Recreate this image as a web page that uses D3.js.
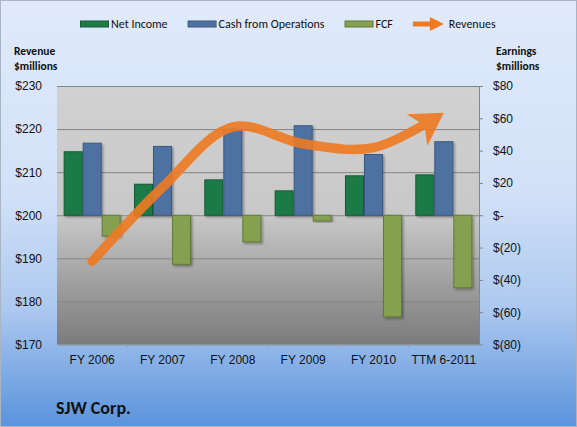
<!DOCTYPE html>
<html>
<head>
<meta charset="utf-8">
<script src="https://cdn.jsdelivr.net/npm/d3@7"></script>
<style>
  body { margin: 0; background: #fff; }
  svg { display: block; font-family: Carlito, Calibri, Lato, "Open Sans", sans-serif; }
  .axis text { font-size: 12px; fill: #111; }
</style>
</head>
<body>
<svg id="chart" width="577" height="427"></svg>
<script>
// data, $ millions
const categories = ["FY 2006", "FY 2007", "FY 2008", "FY 2009", "FY 2010", "TTM 6-2011"];
const netIncome = [39.3, 19.2, 21.9, 15.1, 24.4, 25.0];
const cashFromOps = [44.6, 42.6, 53.3, 55.4, 37.6, 45.5];
const fcf = [-12.8, -30.4, -16.5, -3.5, -62.9, -44.9];
const revenues = [189.3, 206.5, 220.5, 216.6, 215.7, 223.8];
const leftTicks = [170, 180, 190, 200, 210, 220, 230];
const rightTicks = [-80, -60, -40, -20, 0, 20, 40, 60, 80];

const W = 577, H = 427;
const margin = {left: 57, right: 98, top: 86, bottom: 82.5};
const plotW = W - margin.left - margin.right;
const plotH = H - margin.top - margin.bottom;

const svg = d3.select("#chart");
const defs = svg.append("defs");

const bg = defs.append("linearGradient").attr("id", "bg")
    .attr("x1", 0).attr("y1", 0).attr("x2", 0).attr("y2", 1);
bg.append("stop").attr("offset", "0").attr("stop-color", "#e0eafb");
bg.append("stop").attr("offset", "0.45").attr("stop-color", "#d2e1f8");
bg.append("stop").attr("offset", "0.72").attr("stop-color", "#adc9ef");
bg.append("stop").attr("offset", "1").attr("stop-color", "#5a93dc");

const pg = defs.append("linearGradient").attr("id", "plotbg")
    .attr("x1", 0).attr("y1", 0).attr("x2", 0).attr("y2", 1);
pg.append("stop").attr("offset", "0").attr("stop-color", "#d1d1d1");
pg.append("stop").attr("offset", "0.5").attr("stop-color", "#c8c8c8");
pg.append("stop").attr("offset", "1").attr("stop-color", "#7b7b7b");

const shadow = defs.append("filter").attr("id", "shadow")
    .attr("x", "-20%").attr("y", "-20%").attr("width", "150%").attr("height", "150%");
shadow.append("feDropShadow").attr("dx", 1.5).attr("dy", 1.5)
    .attr("stdDeviation", 1).attr("flood-color", "#000").attr("flood-opacity", 0.35);

const orange = "#ef7a22";
defs.append("marker").attr("id", "arrow")
    .attr("markerUnits", "userSpaceOnUse")
    .attr("viewBox", "0 0 34 38")
    .attr("markerWidth", 34).attr("markerHeight", 38)
    .attr("refX", 32).attr("refY", 19)
    .attr("orient", "auto")
  .append("path")
    .attr("d", "M0,0 L32,19 L0,38 L9,19 Z")
    .attr("fill", orange);

svg.append("rect").attr("x", 0.5).attr("y", 0.5)
    .attr("width", W - 1).attr("height", H - 1)
    .attr("fill", "url(#bg)").attr("stroke", "#a9b4c4");

const g = svg.append("g").attr("transform", `translate(${margin.left},${margin.top})`);

g.append("rect").attr("width", plotW).attr("height", plotH).attr("fill", "url(#plotbg)");

const x = d3.scaleBand().domain(categories).range([0, plotW]);
const series = ["ni", "cfo", "fcf"];
const gap = x.bandwidth() / 3.7 * 0.7;
const xs = d3.scaleBand().domain(series).range([gap / 2, x.bandwidth() - gap / 2]);
const yL = d3.scaleLinear().domain([170, 230]).range([plotH, 0]);
const yR = d3.scaleLinear().domain([-80, 80]).range([plotH, 0]);

// gridlines
g.append("g").attr("class", "grid")
    .call(d3.axisLeft(yL).tickValues(leftTicks.slice(1)).tickSize(-plotW).tickFormat(""))
    .call(s => s.select(".domain").remove())
    .call(s => s.selectAll("line").attr("stroke", "#858585"));

// bars
const barData = categories.map((c, i) => ({
  cat: c,
  vals: [
    {key: "ni", v: netIncome[i]},
    {key: "cfo", v: cashFromOps[i]},
    {key: "fcf", v: fcf[i]}
  ]
}));
const fill = {ni: "#1e7a47", cfo: "#4e71a0", fcf: "#85a04f"};
const edge = {ni: "#175c36", cfo: "#3a5982", fcf: "#627a38"};

g.append("g").selectAll("g").data(barData).join("g")
    .attr("transform", d => `translate(${x(d.cat)},0)`)
  .selectAll("rect").data(d => d.vals).join("rect")
    .attr("x", d => xs(d.key) + 0.5)
    .attr("width", xs.bandwidth() - 1)
    .attr("y", d => yR(Math.max(0, d.v)))
    .attr("height", d => Math.abs(yR(d.v) - yR(0)))
    .attr("fill", d => fill[d.key])
    .attr("stroke", d => edge[d.key])
    .attr("stroke-width", 1)
    .attr("filter", "url(#shadow)");

// bottom axis
const xAxis = g.append("g").attr("class", "axis")
    .attr("transform", `translate(0,${plotH})`)
    .call(d3.axisBottom(x).tickSize(0).tickPadding(11));
xAxis.select(".domain").attr("stroke", "#8c8c8c");
g.append("g").selectAll("line").data(categories.slice(1)).join("line")
    .attr("x1", d => x(d)).attr("x2", d => x(d))
    .attr("y1", plotH).attr("y2", plotH + 3)
    .attr("stroke", "#9a9a9a");

// left axis labels
g.append("g").attr("class", "axis")
    .call(d3.axisLeft(yL).tickValues(leftTicks).tickSize(0).tickPadding(15)
      .tickFormat(d => "$" + d))
    .call(s => s.select(".domain").remove());

// right axis
const fmtR = d => d === 0 ? "$-" : d < 0 ? `$(${-d})` : "$" + d;
const rAxis = g.append("g").attr("class", "axis")
    .attr("transform", `translate(${plotW},0)`)
    .call(d3.axisRight(yR).tickValues(rightTicks).tickSize(4).tickPadding(10)
      .tickSizeOuter(0).tickFormat(fmtR));
rAxis.select(".domain").attr("stroke", "#858585");
rAxis.selectAll("line").attr("stroke", "#858585");

// revenues line with arrow head
const line = d3.line()
    .x((d, i) => x(categories[i]) + x.bandwidth() / 2)
    .y(d => yL(d))
    .curve(d3.curveCatmullRom.alpha(0.5));
const rev = g.append("g").attr("opacity", 0.9);
const path = rev.append("path")
    .attr("d", line(revenues))
    .attr("fill", "none")
    .attr("stroke", orange)
    .attr("stroke-width", 9.5)
    .attr("stroke-linecap", "round")
    .attr("marker-end", "url(#arrow)");
const L = path.node().getTotalLength();
path.attr("stroke-dasharray", `${L - 22} ${L}`);

// axis titles
const titleStyle = s => s.attr("font-size", 11.5).attr("font-weight", "bold").attr("fill", "#111");
svg.append("text").attr("x", 14).attr("y", 55).text("Revenue").call(titleStyle);
svg.append("text").attr("x", 14).attr("y", 70).text("$millions").call(titleStyle);
svg.append("text").attr("x", 496).attr("y", 55).text("Earnings").call(titleStyle);
svg.append("text").attr("x", 496).attr("y", 70).text("$millions").call(titleStyle);

// legend
const legendItems = [
  {label: "Net Income", key: "ni"},
  {label: "Cash from Operations", key: "cfo"},
  {label: "FCF", key: "fcf"},
  {label: "Revenues", key: "rev"}
];
const legend = svg.append("g").attr("transform", "translate(80,24)");
let lx = 0;
legendItems.forEach(item => {
  const it = legend.append("g").attr("transform", `translate(${lx},0)`);
  if (item.key === "rev") {
    it.append("line").attr("x1", 0).attr("x2", 20).attr("y1", 0).attr("y2", 0)
        .attr("stroke", orange).attr("stroke-width", 5);
    it.append("path").attr("d", "M17,-7 L31,0 L17,7 Z").attr("fill", orange);
  } else {
    it.append("rect").attr("x", 0.5).attr("y", -3).attr("width", 28).attr("height", 6)
        .attr("fill", fill[item.key]).attr("stroke", edge[item.key]);
  }
  const t = it.append("text").attr("x", item.key === "rev" ? 36 : 31).attr("y", 4)
      .attr("font-size", 12).attr("fill", "#111").text(item.label);
  lx += (item.key === "rev" ? 36 : 31) + t.node().getComputedTextLength() + 20;
});

// title
svg.append("text").attr("x", 56).attr("y", 414)
    .attr("font-size", 18).attr("font-weight", "bold").attr("fill", "#111")
    .text("SJW Corp.");
</script>
</body>
</html>
